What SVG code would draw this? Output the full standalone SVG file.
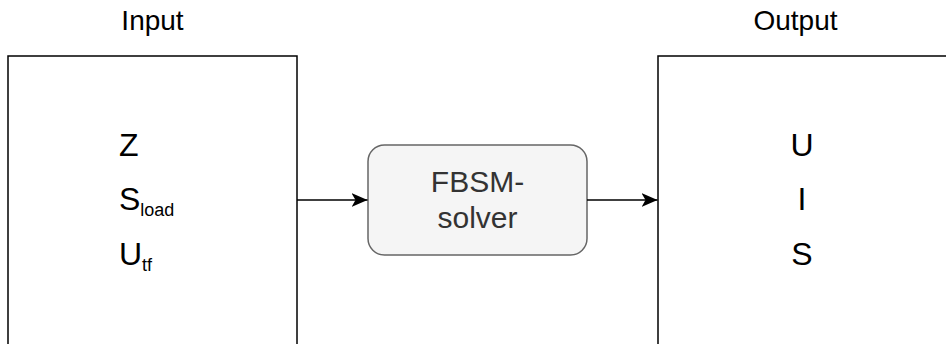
<svg xmlns="http://www.w3.org/2000/svg" width="946" height="344" viewBox="0 0 946 344">
<defs>
<style>
text{font-family:"Liberation Sans",Arial,sans-serif;}
.box{fill:#ffffff;stroke:#000000;stroke-width:1.5;}
.solver{fill:#f5f5f5;stroke:#666666;stroke-width:1.5;}
.lbl{font-size:28px;fill:#000;text-anchor:middle;}
.var{font-size:32px;fill:#000;}
.sub{font-size:18px;}
.st{font-size:30px;fill:#333333;text-anchor:middle;}
.edge{stroke:#000;stroke-width:1.5;fill:none;}
</style>
<marker id="arr" viewBox="0 0 16 14" refX="16" refY="7" markerWidth="16" markerHeight="14" markerUnits="userSpaceOnUse" orient="auto">
<path d="M0,0 L16,7 L0,14 L4,7 Z" fill="#000"/>
</marker>
</defs>
<g id="input">
<text class="lbl" x="152.5" y="30">Input</text>
<rect class="box" x="8" y="56" width="289" height="300"/>
<text class="var" x="119" y="156">Z</text>
<text class="var" x="119" y="209.5">S<tspan class="sub" dy="6">load</tspan></text>
<text class="var" x="119" y="265">U<tspan class="sub" dy="6">tf</tspan></text>
</g>
<g id="solver">
<rect class="solver" x="368" y="145" width="219" height="110" rx="16.5" ry="16.5"/>
<text class="st" x="477.5" y="192">FBSM-</text>
<text class="st" x="477.5" y="228">solver</text>
</g>
<g id="output">
<text class="lbl" x="795.5" y="30">Output</text>
<rect class="box" x="658" y="56" width="300" height="300"/>
<text class="var" x="802" y="156" text-anchor="middle">U</text>
<text class="var" x="802" y="210" text-anchor="middle">I</text>
<text class="var" x="802" y="265" text-anchor="middle">S</text>
</g>
<g id="connectors">
<path class="edge" d="M297,200 L367.5,200" marker-end="url(#arr)"/>
<path class="edge" d="M587,200 L657.5,200" marker-end="url(#arr)"/>
</g>
</svg>
